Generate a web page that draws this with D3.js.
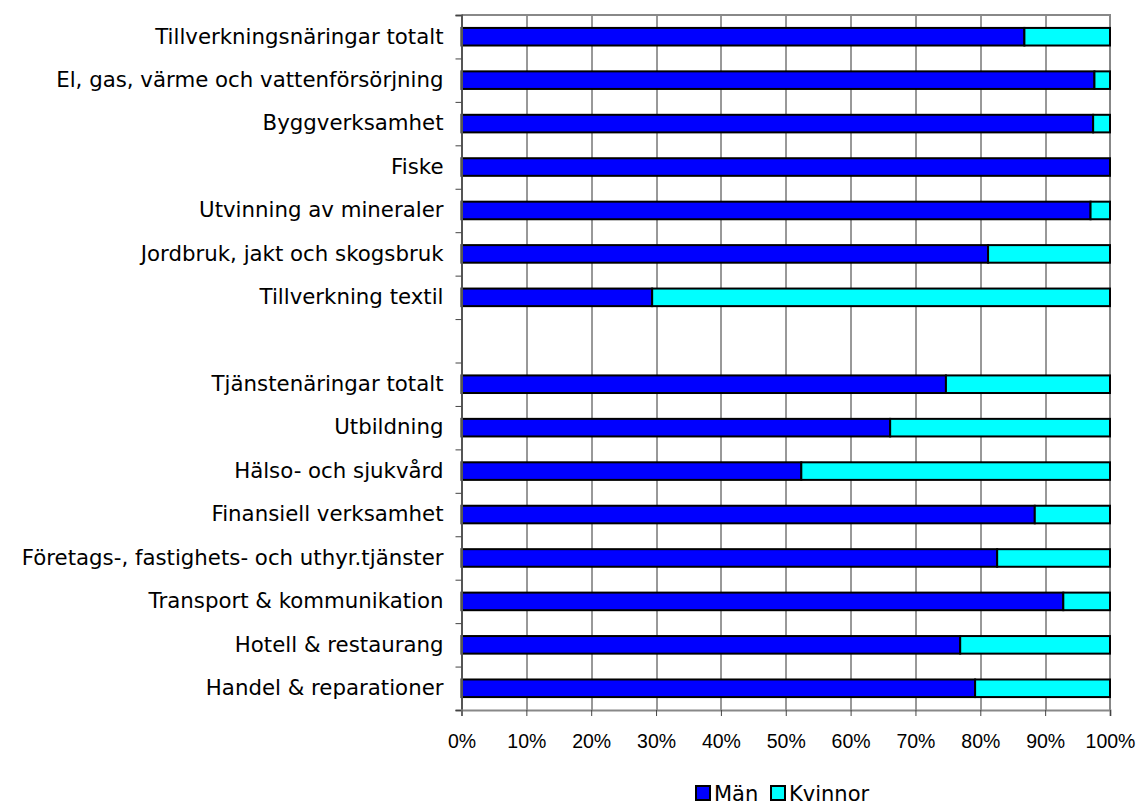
<!DOCTYPE html>
<html>
<head>
<meta charset="utf-8">
<script src="https://cdn.jsdelivr.net/npm/d3@7"></script>
<style>
  body { margin: 0; background: #fff; }
  text { font-family: "DejaVu Sans", Verdana, sans-serif; fill: #000; }
</style>
</head>
<body>
<div id="chart"></div>
<script>
// categories, top to bottom ("" = empty gap row)
var categories = [
    "Tillverkningsnäringar totalt",
    "El, gas, värme och vattenförsörjning",
    "Byggverksamhet",
    "Fiske",
    "Utvinning av mineraler",
    "Jordbruk, jakt och skogsbruk",
    "Tillverkning textil",
    "",
    "Tjänstenäringar totalt",
    "Utbildning",
    "Hälso- och sjukvård",
    "Finansiell verksamhet",
    "Företags-, fastighets- och uthyr.tjänster",
    "Transport & kommunikation",
    "Hotell & restaurang",
    "Handel & reparationer"
];
var man =     [86.8, 97.6, 97.4, 100, 97.0, 81.2, 29.4, 0, 74.7, 66.1, 52.4, 88.4, 82.6, 92.8, 76.9, 79.2];
var kvinnor = [13.2,  2.4,  2.6,   0,  3.0, 18.8, 70.6, 0, 25.3, 33.9, 47.6, 11.6, 17.4,  7.2, 23.1, 20.8];
var seriesNames = ["Män", "Kvinnor"];
var seriesColors = ["#0000ff", "#00ffff"];
var xTicks = [0, 10, 20, 30, 40, 50, 60, 70, 80, 90, 100];

var margin = { top: 15, right: 29, bottom: 98, left: 461.5 },
    width = 1139 - margin.left - margin.right,
    height = 808 - margin.top - margin.bottom;

var svg = d3.select("#chart")
    .append("svg")
    .attr("width", 1139)
    .attr("height", 808);

var g = svg.append("g")
    .attr("transform", "translate(" + margin.left + "," + margin.top + ")");

var x = d3.scaleLinear().domain([0, 100]).range([0, width]);
var y = d3.scaleBand().domain(categories).range([0, height]).paddingInner(0.595).paddingOuter(0.2975);
var yEdge = d3.scaleLinear().domain([0, categories.length]).range([0, height]);

// gridlines
g.append("g")
    .selectAll("line")
    .data(xTicks.slice(1, -1))
    .enter()
    .append("line")
    .attr("x1", d => Math.round(x(d)) + 0.5)
    .attr("x2", d => Math.round(x(d)) + 0.5)
    .attr("y1", 0)
    .attr("y2", height)
    .attr("stroke", "#333")
    .attr("stroke-width", 1);

// frame top / right
g.append("path")
    .attr("d", "M0,0H" + width + "V" + height)
    .attr("fill", "none")
    .attr("stroke", "#888")
    .attr("stroke-width", 2);

// stacked bars
var rows = categories.map((c, i) => ({ cat: c, "Män": man[i], "Kvinnor": kvinnor[i] }));
var stacked = d3.stack().keys(seriesNames)(rows);

g.append("g")
    .selectAll("g")
    .data(stacked)
    .enter()
    .append("g")
    .attr("fill", (d, i) => seriesColors[i])
    .selectAll("rect")
    .data(d => d.filter(v => v[1] - v[0] > 0))
    .enter()
    .append("rect")
    .attr("x", d => x(d[0]))
    .attr("y", d => y(d.data.cat))
    .attr("width", d => x(d[1]) - x(d[0]))
    .attr("height", y.bandwidth())
    .attr("stroke", "#000")
    .attr("stroke-width", 2);

// y axis: labels at band centres
var yAxis = g.append("g")
    .call(d3.axisLeft(y).tickSize(0).tickPadding(18));
yAxis.select(".domain").remove();
yAxis.selectAll("text").style("font-size", "21.3px");

// y axis: ticks at band edges
var yEdgeAxis = g.append("g")
    .call(d3.axisLeft(yEdge).ticks(categories.length).tickFormat("").tickSize(6));
yEdgeAxis.select(".domain").attr("stroke", "#555").attr("stroke-width", 2);
yEdgeAxis.selectAll("line").attr("stroke", "#444");

// x axis
var xAxis = g.append("g")
    .attr("transform", "translate(0," + height + ")")
    .call(d3.axisBottom(x).tickValues(xTicks).tickFormat(d => d + "%").tickSize(6).tickPadding(18));
xAxis.select(".domain").attr("stroke", "#888").attr("stroke-width", 2);
xAxis.selectAll("line").attr("stroke", "#444");
xAxis.selectAll("text")
    .style("font-family", "'Liberation Sans', Arial, sans-serif")
    .style("font-size", "19.5px");

// legend
var legend = svg.append("g").attr("transform", "translate(696,786)");
var legX = [0, 75];
seriesNames.forEach((s, i) => {
    var lg = legend.append("g").attr("transform", "translate(" + legX[i] + ",0)");
    lg.append("rect")
        .attr("width", 14).attr("height", 14)
        .attr("fill", seriesColors[i])
        .attr("stroke", "#000").attr("stroke-width", 2);
    lg.append("text")
        .attr("x", 18).attr("y", 15)
        .style("font-size", "21px")
        .text(s);
});
</script>
</body>
</html>
